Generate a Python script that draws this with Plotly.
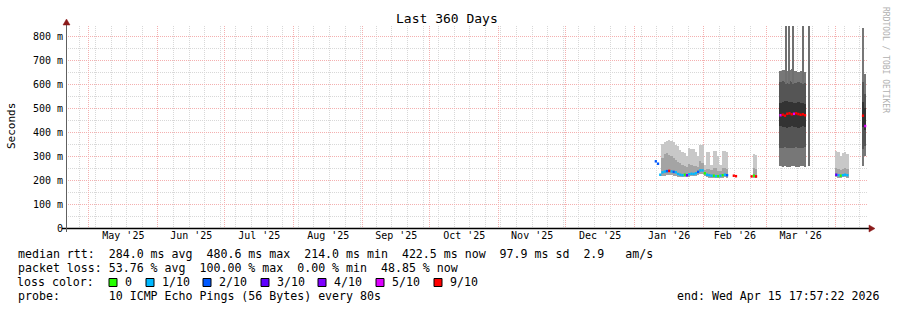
import plotly.graph_objects as go
from datetime import datetime, timedelta

# ---------------- data ----------------
START = "2025-04-20 17:57:22"
END = "2026-04-15 17:57:22"

LOSS_COLORS = ["#26ff00", "#00b8ff", "#0059ff", "#5e00ff", "#7e00ff", "#dd00ff", "#ff0000"]
LOSS_LABELS = ["0", "1/10", "2/10", "3/10", "4/10", "5/10", "9/10"]

Y_TICKS = [0, 100, 200, 300, 400, 500, 600, 700, 800]
Y_TICKTEXT = ["0", "100 m", "200 m", "300 m", "400 m", "500 m", "600 m", "700 m", "800 m"]

# Jan-Feb 2026 segment (daily bins, ms)
jf_days = ["2026-01-10", "2026-01-11", "2026-01-12", "2026-01-13", "2026-01-14", "2026-01-15",
           "2026-01-16", "2026-01-17", "2026-01-18", "2026-01-19", "2026-01-20", "2026-01-21",
           "2026-01-22", "2026-01-23", "2026-01-24", "2026-01-25", "2026-01-26", "2026-01-27",
           "2026-01-28", "2026-01-29", "2026-01-30", "2026-01-31", "2026-02-01", "2026-02-02",
           "2026-02-03", "2026-02-04", "2026-02-05", "2026-02-06", "2026-02-07", "2026-02-08",
           "2026-02-09", "2026-02-10", "2026-02-11", "2026-02-14", "2026-02-15",
           "2026-02-22", "2026-02-23", "2026-02-24"]
jf_median = [278, 268, 222, 232, 235, 237, 238, 236, 234, 232, 225, 222,
             220, 222, 220, 224, 226, 225, 228, 234, 240, 240, 228, 222,
             220, 218, 218, 216, 216, 218, 220, 222, 220, 218, 216,
             215, 218, 215]
jf_loss = [2, 2, 1, 1, 1, 2, 6, 1, 2, 1, 1, 1,
           1, 0, 3, 1, 1, 1, 1, 2, 1, 1, 0, 1,
           1, 1, 0, 1, 0, 1, 0, 1, 2, 6, 6,
           6, 0, 6]
jf_low = [None, None, 212, 215, 218, 220, 220, 220, 218, 216, 214, 212,
          212, 212, 212, 214, 215, 215, 216, 220, 224, 224, 215, 212,
          210, 210, 210, 208, 208, 210, 210, 212, 210, None, None,
          None, 210, 210]
jf_mid = [None, None, None, 292, 310, 312, 305, 300, 290, 282, 275, 270,
          262, 258, 255, 265, 262, 260, 258, 255, 280, 270, 240, 248,
          246, 240, 250, 250, 238, 236, 250, 252, 248, None, None,
          None, 250, 245]
jf_high = [None, None, None, 350, 360, 362, 365, 364, 360, 345, 340, 325,
           318, 312, 300, 333, 330, 328, 318, 300, 347, 345, 262, 318,
           315, 262, 322, 322, 300, 262, 322, 320, 318, None, None,
           None, 310, 305]

# March / mid-April heavy smoke segments
mar_days = ["2026-03-07", "2026-03-08", "2026-03-09", "2026-03-10", "2026-03-11", "2026-03-12",
            "2026-03-13", "2026-03-14", "2026-03-15", "2026-03-16", "2026-03-17", "2026-03-18",
            "2026-04-13", "2026-04-14"]
mar_median = [470, 472, 468, 476, 478, 474, 476, 478, 475, 472, 474, 470, 468, 425]
mar_loss = [5, 6, 6, 6, 6, 6, 5, 6, 6, 6, 6, 6, 6, 5]
mar_out_lo = [258, 256, 257, 255, 256, 258, 257, 256, 255, 257, 258, 256, 258, 300]
mar_out_hi = [655, 660, 658, 656, 660, 662, 655, 654, 652, 655, 656, 650, 833, 640]
mar_mid_lo = [335, 333, 336, 334, 332, 335, 334, 336, 333, 335, 334, 336, 330, 340]
mar_mid_hi = [610, 612, 608, 606, 612, 610, 606, 605, 608, 606, 604, 606, 610, 560]
mar_core_lo = [425, 420, 422, 418, 420, 425, 420, 422, 418, 420, 424, 422, 420, 410]
mar_core_hi = [522, 525, 528, 530, 526, 524, 520, 522, 525, 522, 520, 518, 525, 500]

# narrow spikes of max rtt
spike_times = ["2026-03-09 20:00", "2026-03-11 08:00", "2026-03-12 22:00",
               "2026-03-17 10:00", "2026-03-20 02:00"]
spike_lo = [600, 600, 600, 600, 257]
spike_hi = [840, 840, 840, 840, 840]

# April 2026 small segment
apr_days = ["2026-04-01", "2026-04-02", "2026-04-03", "2026-04-04", "2026-04-05", "2026-04-06"]
apr_median = [222, 220, 218, 220, 222, 220]
apr_loss = [3, 1, 0, 1, 1, 1]
apr_low = [212, 210, 210, 211, 212, 210]
apr_mid = [250, 245, 240, 248, 250, 245]
apr_high = [320, 318, 300, 312, 315, 310]

LEGEND_LINES = [
    "median rtt:  284.0 ms avg  480.6 ms max  214.0 ms min  422.5 ms now  97.9 ms sd  2.9   am/s",
    "packet loss: 53.76 % avg  100.00 % max  0.00 % min  48.85 % now",
    "loss color:",
    "probe:       10 ICMP Echo Pings (56 Bytes) every 80s",
]
END_TEXT = "end: Wed Apr 15 17:57:22 2026"

# ---------------- layout helpers ----------------
W, H = 897, 310
L, R, T, B = 66, 29, 26, 82
PW, PH = W - L - R, H - T - B
MONO = "DejaVu Sans Mono, monospace"
DAY_MS = 86400000


def px(x):
    return (x - L) / PW


def py(y):
    return (H - B - y) / PH


fig = go.Figure()


def band(days, lo, hi, color, width_days=1.0):
    xs, bases, hs = [], [], []
    for d, a, b in zip(days, lo, hi):
        if a is None or b is None:
            continue
        t = datetime.fromisoformat(d)
        xs.append(t + timedelta(days=width_days / 2) if len(d) == 10 else t)
        bases.append(a)
        hs.append(b - a)
    fig.add_trace(go.Bar(x=xs, y=hs, base=bases, width=width_days * DAY_MS,
                         marker=dict(color=color, line=dict(width=0)),
                         hoverinfo="skip", showlegend=False))


# Jan-Feb smoke
band(jf_days, jf_low, jf_high, "#c8c8c8")
band(jf_days, jf_low, jf_mid, "#a4a4a4")
# April smoke
band(apr_days, apr_low, apr_high, "#c8c8c8")
band(apr_days, apr_low, apr_mid, "#a4a4a4")
# March heavy smoke
band(mar_days, mar_out_lo, mar_out_hi, "#777777")
band(mar_days, mar_mid_lo, mar_mid_hi, "#555555")
band(mar_days, mar_core_lo, mar_core_hi, "#333333")
# spikes
band(spike_times, spike_lo, spike_hi, "#707070", width_days=0.45)


# median lines coloured by loss
def median_segments(days, med, loss):
    segs = {i: ([], []) for i in range(len(LOSS_COLORS))}
    for d, m, l in zip(days, med, loss):
        t0 = datetime.fromisoformat(d)
        t1 = t0 + timedelta(days=1)
        xs, ys = segs[l]
        xs += [t0, t1, None]
        ys += [m, m, None]
    return segs


all_days = jf_days + apr_days + mar_days
all_med = jf_median + apr_median + mar_median
all_loss = jf_loss + apr_loss + mar_loss
segs = median_segments(all_days, all_med, all_loss)
for i, (xs, ys) in segs.items():
    if xs:
        fig.add_trace(go.Scatter(x=xs, y=ys, mode="lines",
                                 line=dict(color=LOSS_COLORS[i], width=2.5),
                                 hoverinfo="skip", showlegend=False, connectgaps=False))

GRID_MINOR = "#d8d8d8"
GRID_MAJOR = "#f4b0b0"

fig.update_layout(
    width=W, height=H,
    margin=dict(l=L, r=R, t=T, b=B, pad=0),
    paper_bgcolor="white", plot_bgcolor="white",
    barmode="overlay", bargap=0,
    font=dict(family=MONO, size=10, color="#000"),
    xaxis=dict(
        type="date", range=[START, END],
        tickmode="linear", tick0="2025-05-01", dtick="M1",
        tickformat="%b '%y", ticklabelmode="period",
        showgrid=True, gridcolor=GRID_MAJOR, griddash="1px,1px", gridwidth=1,
        minor=dict(tickmode="linear", tick0="2025-04-27", dtick=7 * DAY_MS,
                   showgrid=True, gridcolor=GRID_MINOR, griddash="1px,1px", gridwidth=1),
        showline=False, zeroline=False, ticks="",
        tickfont=dict(family=MONO, size=10, color="#000"),
    ),
    yaxis=dict(
        range=[0, 842],
        tickmode="array", tickvals=Y_TICKS, ticktext=Y_TICKTEXT,
        showgrid=True, gridcolor=GRID_MAJOR, griddash="1px,1px", gridwidth=1,
        minor=dict(tickmode="linear", tick0=0, dtick=50,
                   showgrid=True, gridcolor=GRID_MINOR, griddash="1px,1px", gridwidth=1),
        showline=False, zeroline=False, ticks="", ticklabelstandoff=2,
        tickfont=dict(family=MONO, size=10, color="#000"),
    ),
)

shapes = []
# x axis line + arrow
shapes.append(dict(type="line", xref="paper", yref="paper", x0=px(62), x1=px(870),
                   y0=py(228.5), y1=py(228.5), line=dict(color="#000", width=1.5), layer="above"))
shapes.append(dict(type="path", xref="paper", yref="paper",
                   path=f"M {px(869)} {py(225)} L {px(875)} {py(228.5)} L {px(869)} {py(232)} Z",
                   fillcolor="#8b1a1a", line=dict(color="#8b1a1a", width=0.5), layer="above"))
# y axis line + arrow
shapes.append(dict(type="line", xref="paper", yref="paper", x0=px(66.5), x1=px(66.5),
                   y0=py(232), y1=py(24), line=dict(color="#606060", width=1), layer="above"))
shapes.append(dict(type="path", xref="paper", yref="paper",
                   path=f"M {px(63)} {py(25)} L {px(66.5)} {py(19)} L {px(70)} {py(25)} Z",
                   fillcolor="#8b1a1a", line=dict(color="#8b1a1a", width=0.5), layer="above"))

annotations = []


def text(x, y, s, size=11.6, xanchor="left", color="#000", angle=0):
    annotations.append(dict(x=px(x), y=py(y), xref="paper", yref="paper", text=s.replace(" ", "\u00a0"),
                            showarrow=False, xanchor=xanchor, yanchor="middle", textangle=angle,
                            font=dict(family=MONO, size=size, color=color)))


text(447, 19, "Last 360 Days", size=13, xanchor="center")
text(11, 126, "Seconds", size=11, xanchor="center", angle=-90)
text(886, 60, "RRDTOOL / TOBI OETIKER", size=8, xanchor="center", color="#b0b0b0", angle=90)

ys = [254, 268, 282, 296]
for yy, s in zip(ys, LEGEND_LINES):
    text(15.5, yy, s)
text(881, 296, END_TEXT, xanchor="right")

box_x = [109, 146, 203, 261, 318, 376, 434]
for bx, c, lab in zip(box_x, LOSS_COLORS, LOSS_LABELS):
    shapes.append(dict(type="rect", xref="paper", yref="paper",
                       x0=px(bx), x1=px(bx + 8), y0=py(278.5), y1=py(286.5),
                       fillcolor=c, line=dict(color="#000", width=1), layer="above"))
    text(bx + 14, 282, lab)

fig.update_layout(shapes=shapes, annotations=annotations)
fig.write_html("out.html")
